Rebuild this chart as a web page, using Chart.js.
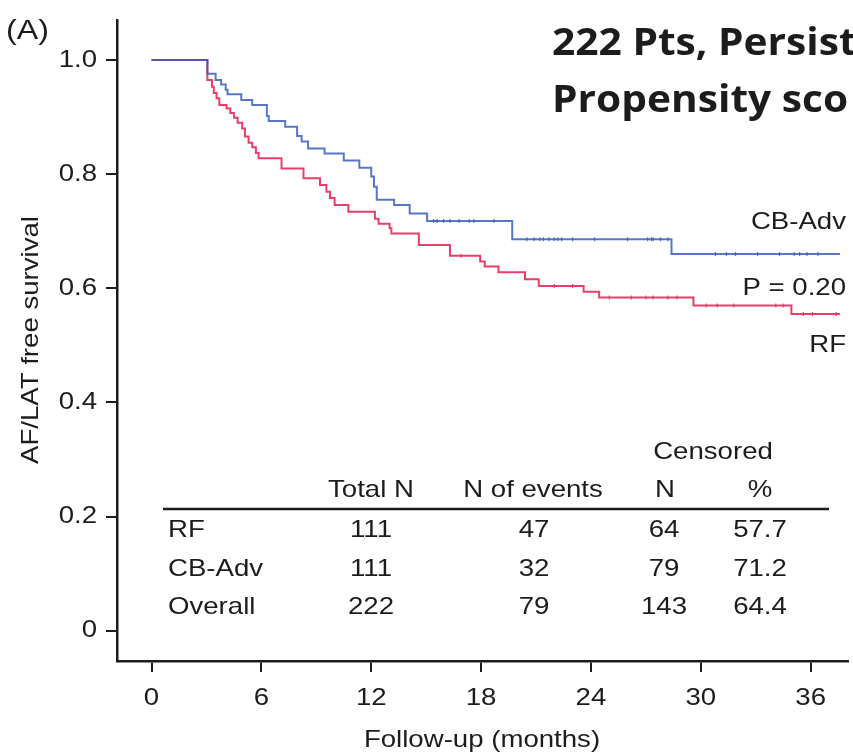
<!DOCTYPE html>
<html>
<head>
<meta charset="utf-8">
<script src="https://cdn.jsdelivr.net/npm/chart.js@4"></script>
<style>
  body { margin: 0; background: #fff; }
  canvas { display: block; }
</style>
</head>
<body>
<canvas id="km" width="853" height="754"></canvas>
<script>
// Kaplan-Meier steps: time (months) -> survival after the drop
const rfTimes = [0, 3.05, 3.3, 3.4, 3.55, 3.7, 4.1, 4.3, 4.5, 4.7, 4.95, 5.1, 5.3, 5.5, 5.7, 5.85, 7.1, 8.3, 9.2, 9.55,
  9.75, 10.0, 10.75, 12.2, 12.4, 13.0, 13.1, 14.6, 16.3, 17.95, 18.2, 18.95, 20.4, 21.15, 23.6, 24.45, 29.6, 34.95, 37.6];
const rfSurv = [1.0, 0.965, 0.953, 0.942, 0.933, 0.921, 0.915, 0.907, 0.899, 0.890, 0.880, 0.866, 0.855, 0.847, 0.837, 0.828, 0.810, 0.793, 0.781, 0.769,
  0.758, 0.746, 0.734, 0.722, 0.713, 0.705, 0.696, 0.676, 0.657, 0.647, 0.638, 0.628, 0.616, 0.604, 0.594, 0.584, 0.570, 0.555, 0.555];
const cbTimes = [0, 3.05, 3.5, 3.8, 4.05, 4.15, 4.9, 5.5, 6.3, 6.4, 7.3, 7.95, 8.2, 8.55, 9.45, 10.5, 11.35, 12.0, 12.15, 12.3,
  13.25, 14.1, 15.05, 19.7, 28.4, 37.6];
const cbSurv = [1.0, 0.976, 0.965, 0.957, 0.948, 0.940, 0.930, 0.921, 0.902, 0.893, 0.883, 0.867, 0.857, 0.845, 0.836, 0.824, 0.811, 0.796, 0.778, 0.755,
  0.746, 0.731, 0.718, 0.686, 0.660, 0.660];

// censoring ticks (months)
const rfCensored = [16.9, 22.0, 23.0, 25.0, 26.2, 27.0, 27.4, 28.2, 28.7, 30.3, 30.9, 31.8, 34.1, 34.5, 35.6, 36.1, 37.4];
const cbCensored = [15.4, 15.6, 15.95, 16.3, 16.8, 17.35, 17.6, 18.7, 20.5, 20.9, 21.2, 21.4, 21.7, 22.0, 22.2, 22.4, 23.0,
  24.2, 26.0, 27.1, 27.3, 27.4, 27.8, 28.2, 30.8, 31.4, 31.9, 33.1, 34.3, 35.1, 35.4, 35.8, 36.4];

const xTicks = [0, 6, 12, 18, 24, 30, 36];
const yTicks = [0, 0.2, 0.4, 0.6, 0.8, 1.0];
const yTickLabels = ["0", "0.2", "0.4", "0.6", "0.8", "1.0"];

// summary table
const tableGroups = ["RF", "CB-Adv", "Overall"];
const totalN = ["111", "111", "222"];
const nEvents = ["47", "32", "79"];
const censoredN = ["64", "79", "143"];
const censoredPct = ["57.7", "71.2", "64.4"];

const RED = "rgb(232,62,104)";
const BLUE = "rgba(52,88,186,0.82)";
const INK = "#1c1c1c";

const toPoints = (ts, ss) => ts.map((t, i) => ({ x: t, y: ss[i] }));
const survAt = (ts, ss, t) => {
  let v = ss[0];
  for (let i = 0; i < ts.length; i++) if (ts[i] <= t) v = ss[i];
  return v;
};
const censorPoints = (cs, ts, ss) => cs.map((t) => ({ x: t, y: survAt(ts, ss, t) }));

// draw text stretched along its own baseline (the figure is wide-set)
function txt(ctx, str, x, y, align, font, base, stretch) {
  ctx.save();
  ctx.translate(x, y);
  ctx.scale(stretch || 1.15, 1);
  ctx.font = font;
  ctx.fillStyle = INK;
  ctx.textAlign = align;
  ctx.textBaseline = base || "middle";
  ctx.fillText(str, 0, 0);
  ctx.restore();
}

const FONT = '24px "Liberation Sans", Arial, sans-serif';
const HEAD = 'bold 37px "Open Sans", sans-serif';

const textPlugin = {
  id: "kmText",
  afterDraw(chart) {
    const ctx = chart.ctx;
    const xs = chart.scales.x, ys = chart.scales.y;

    // tick labels
    yTicks.forEach((v, i) => txt(ctx, yTickLabels[i], 97, ys.getPixelForValue(v), "right", FONT));
    xTicks.forEach((v) => txt(ctx, String(v), xs.getPixelForValue(v), 698, "center", FONT));

    // axis titles
    txt(ctx, "Follow-up (months)", 482, 740, "center", FONT);
    ctx.save();
    ctx.translate(31, 340);
    ctx.rotate(-Math.PI / 2);
    txt(ctx, "AF/LAT free survival", 0, 0, "center", FONT);
    ctx.restore();

    // panel letter + heading
    txt(ctx, "(A)", 6, 31, "left", '28px "Liberation Sans", Arial, sans-serif');
    txt(ctx, "222 Pts, Persist", 552, 55, "left", HEAD, "alphabetic", 1.1);
    txt(ctx, "Propensity sco", 552, 112, "left", HEAD, "alphabetic", 1.1);

    // curve labels
    txt(ctx, "CB-Adv", 846, 222, "right", FONT);
    txt(ctx, "P = 0.20", 846, 288, "right", FONT);
    txt(ctx, "RF", 846, 345, "right", FONT);

    // table
    txt(ctx, "Censored", 713, 452, "center", FONT);
    txt(ctx, "Total N", 371, 490, "center", FONT);
    txt(ctx, "N of events", 533, 490, "center", FONT);
    txt(ctx, "N", 665, 490, "center", FONT);
    txt(ctx, "%", 760, 490, "center", FONT);
    ctx.save();
    ctx.strokeStyle = INK;
    ctx.lineWidth = 2.5;
    ctx.beginPath();
    ctx.moveTo(163, 509);
    ctx.lineTo(829, 509);
    ctx.stroke();
    ctx.restore();
    const rowY = [530, 569, 607];
    tableGroups.forEach((g, i) => {
      txt(ctx, g, 168, rowY[i], "left", FONT);
      txt(ctx, totalN[i], 371, rowY[i], "center", FONT);
      txt(ctx, nEvents[i], 534, rowY[i], "center", FONT);
      txt(ctx, censoredN[i], 664, rowY[i], "center", FONT);
      txt(ctx, censoredPct[i], 760, rowY[i], "center", FONT);
    });
  },
};

const axisStyle = {
  ticks: { display: false },
  grid: { drawOnChartArea: false, drawTicks: true, tickLength: 11, color: INK, lineWidth: 2 },
  border: { display: true, color: INK, width: 2.5 },
};

new Chart(document.getElementById("km"), {
  type: "line",
  data: {
    datasets: [
      {
        label: "CB-Adv",
        data: toPoints(cbTimes, cbSurv),
        stepped: "before",
        borderColor: BLUE,
        borderWidth: 2,
        pointRadius: 0,
        fill: false,
      },
      {
        label: "RF",
        data: toPoints(rfTimes, rfSurv),
        stepped: "before",
        borderColor: RED,
        borderWidth: 2,
        pointRadius: 0,
        fill: false,
      },
      {
        label: "CB-Adv censored",
        data: censorPoints(cbCensored, cbTimes, cbSurv),
        showLine: false,
        pointStyle: "line",
        pointRotation: 90,
        pointRadius: 2,
        pointBorderWidth: 1.2,
        pointBorderColor: BLUE,
      },
      {
        label: "RF censored",
        data: censorPoints(rfCensored, rfTimes, rfSurv),
        showLine: false,
        pointStyle: "line",
        pointRotation: 90,
        pointRadius: 2,
        pointBorderWidth: 1.2,
        pointBorderColor: RED,
      },
    ],
  },
  options: {
    responsive: false,
    animation: false,
    events: [],
    layout: { padding: { top: 20, left: 0, right: 0, bottom: 0 } },
    plugins: { legend: { display: false }, tooltip: { enabled: false } },
    scales: {
      x: {
        type: "linear",
        min: -1.887,
        max: 38.03,
        afterBuildTicks: (s) => { s.ticks = xTicks.map((v) => ({ value: v })); },
        afterFit: (s) => { s.height = 93; },
        ...axisStyle,
      },
      y: {
        type: "linear",
        min: -0.0531,
        max: 1.0701,
        afterBuildTicks: (s) => { s.ticks = yTicks.map((v) => ({ value: v })); },
        afterFit: (s) => { s.width = 117; },
        ...axisStyle,
      },
    },
  },
  plugins: [textPlugin],
});
</script>
</body>
</html>
